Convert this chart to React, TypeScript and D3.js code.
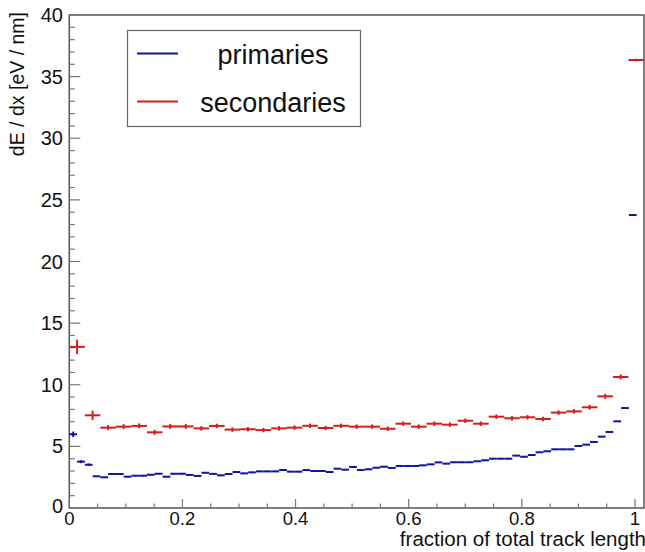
import React from "react";
import * as d3 from "d3";

// secondaries: 37 equal bins spanning the whole x range
const redValues = [
  13.07, 7.52, 6.52, 6.6, 6.66, 6.14, 6.62, 6.62, 6.46, 6.66,
  6.36, 6.39, 6.32, 6.46, 6.52, 6.67, 6.49, 6.67, 6.6, 6.6,
  6.43, 6.84, 6.6, 6.84, 6.76, 7.08, 6.84, 7.41, 7.28, 7.36,
  7.22, 7.74, 7.84, 8.17, 9.06, 10.63, 36.35,
];
const redErrors = [
  0.58, 0.38, 0.2, 0.2, 0.2, 0.2, 0.2, 0.2, 0.18, 0.18,
  0.18, 0.18, 0.18, 0.18, 0.18, 0.18, 0.18, 0.18, 0.18, 0.18,
  0.18, 0.18, 0.18, 0.18, 0.18, 0.18, 0.18, 0.18, 0.18, 0.18,
  0.18, 0.18, 0.18, 0.2, 0.2, 0.2, 0.1,
];

// primaries: 73 equal bins on [0, 1.003]
const blueValues = [
  5.98, 3.76, 3.51, 2.57, 2.49, 2.76, 2.76, 2.54, 2.62, 2.62,
  2.7, 2.78, 2.54, 2.78, 2.78, 2.68, 2.6, 2.86, 2.77, 2.65,
  2.76, 2.92, 2.81, 2.89, 2.97, 2.97, 2.97, 3.08, 2.95, 2.95,
  3.08, 3.0, 3.0, 2.92, 3.19, 3.11, 3.33, 3.08, 3.14, 3.27,
  3.35, 3.25, 3.41, 3.41, 3.41, 3.46, 3.54, 3.7, 3.6, 3.71,
  3.71, 3.71, 3.79, 3.87, 4.0, 4.0, 4.0, 4.25, 4.16, 4.3,
  4.52, 4.6, 4.76, 4.76, 4.76, 5.03, 5.14, 5.36, 5.79, 6.17,
  7.03, 8.11, 23.77,
];
const blueErrors = [
  0.22, 0.12, 0.1, 0.05, 0.05, 0.05, 0.05, 0.05, 0.05, 0.05,
  0.05, 0.05, 0.05, 0.05, 0.05, 0.05, 0.05, 0.05, 0.05, 0.05,
  0.05, 0.05, 0.05, 0.05, 0.05, 0.05, 0.05, 0.05, 0.05, 0.05,
  0.05, 0.05, 0.05, 0.05, 0.05, 0.05, 0.05, 0.05, 0.05, 0.05,
  0.05, 0.05, 0.05, 0.05, 0.05, 0.05, 0.05, 0.05, 0.05, 0.05,
  0.05, 0.05, 0.05, 0.05, 0.05, 0.05, 0.05, 0.05, 0.05, 0.05,
  0.05, 0.05, 0.05, 0.05, 0.05, 0.05, 0.05, 0.05, 0.05, 0.05,
  0.05, 0.05, 0.05,
];

const xMax = 1.016;
const blueXMax = 1.003;
const xTicks = [0, 0.2, 0.4, 0.6, 0.8, 1];
const xTickLabels = ["0", "0.2", "0.4", "0.6", "0.8", "1"];
const yTicks = [0, 5, 10, 15, 20, 25, 30, 35, 40];
const legendLabels = ["primaries", "secondaries"];

const BLUE = "#1414a0";
const RED = "#d41c1c";
const FONT = "'Liberation Sans', Arial, Helvetica, sans-serif";

type Bin = { lo: number; hi: number; v: number; e: number };

function makeBins(values: number[], errors: number[], max: number): Bin[] {
  const w = max / values.length;
  return values.map((v, i) => ({ lo: i * w, hi: (i + 1) * w, v, e: errors[i] }));
}

export default function App() {
  const width = 645;
  const height = 552;
  const left = 69.3, right = 644, top = 15, bottom = 508;

  const x = d3.scaleLinear().domain([0, xMax]).range([left, right]);
  const y = d3.scaleLinear().domain([0, 40]).range([bottom, top]);

  const red = makeBins(redValues, redErrors, xMax);
  const blue = makeBins(blueValues, blueErrors, blueXMax);

  const xMinor = d3.range(0, xMax + 1e-9, 0.05).filter((t) => !xTicks.some((m) => Math.abs(m - t) < 1e-6));
  const yMinor = d3.range(0, 41, 1).filter((t) => t % 5 !== 0);

  const drawHist = (bins: Bin[], color: string, key: string) =>
    bins.map((b, i) => {
      const cx = x((b.lo + b.hi) / 2);
      return (
        <g key={key + i} stroke={color} strokeWidth={2}>
          <line x1={x(b.lo)} x2={Math.min(x(b.hi), right)} y1={y(b.v)} y2={y(b.v)} />
          <line x1={cx} x2={cx} y1={y(b.v - b.e)} y2={y(b.v + b.e)} />
        </g>
      );
    });

  return (
    <svg
      width={width}
      height={height}
      style={{ position: "absolute", left: 0, top: 0, background: "#fff" }}
      fontFamily={FONT}
    >
      <rect x={0} y={0} width={width} height={height} fill="#fff" />

      {/* frame */}
      <rect x={left} y={top} width={right - left} height={bottom - top} fill="none" stroke="#555" strokeWidth={1.5} />

      {/* ticks */}
      <g stroke="#777" strokeWidth={1.2}>
        {xTicks.map((t) => (
          <line key={"xM" + t} x1={x(t)} x2={x(t)} y1={bottom} y2={bottom - 9} />
        ))}
        {xMinor.map((t) => (
          <line key={"xm" + t} x1={x(t)} x2={x(t)} y1={bottom} y2={bottom - 4.5} />
        ))}
        {yTicks.map((t) => (
          <line key={"yM" + t} x1={left} x2={left + 11} y1={y(t)} y2={y(t)} />
        ))}
        {yMinor.map((t) => (
          <line key={"ym" + t} x1={left} x2={left + 5.5} y1={y(t)} y2={y(t)} />
        ))}
      </g>

      {/* tick labels */}
      <g fill="#111">
        {xTicks.map((t, i) => (
          <text key={"xl" + t} x={x(t)} y={518} fontSize={18.5} textAnchor="middle" dominantBaseline="central">
            {xTickLabels[i]}
          </text>
        ))}
        {yTicks.map((t) => (
          <text
            key={"yl" + t}
            x={63}
            y={t === 0 ? y(t) - 2 : y(t)}
            fontSize={20}
            textAnchor="end"
            dominantBaseline="central"
          >
            {t}
          </text>
        ))}
      </g>

      {/* axis titles */}
      <text x={646} y={546} fontSize={20.5} textAnchor="end" fill="#111">
        fraction of total track length
      </text>
      <text transform={`translate(24, 12) rotate(-90)`} fontSize={19.5} textAnchor="end" fill="#111">
        dE / dx [eV / nm]
      </text>

      {/* data */}
      {drawHist(blue, BLUE, "b")}
      {drawHist(red, RED, "r")}

      {/* legend */}
      <rect x={127.5} y={30.5} width={233} height={96} fill="#fff" stroke="#666" strokeWidth={1.2} />
      <line x1={137} x2={178} y1={53.5} y2={53.5} stroke={BLUE} strokeWidth={2} />
      <line x1={137} x2={178} y1={101.5} y2={101.5} stroke={RED} strokeWidth={2} />
      <text x={273} y={64} fontSize={27} textAnchor="middle" fill="#111">
        {legendLabels[0]}
      </text>
      <text x={273} y={111.5} fontSize={27} textAnchor="middle" fill="#111">
        {legendLabels[1]}
      </text>
    </svg>
  );
}
